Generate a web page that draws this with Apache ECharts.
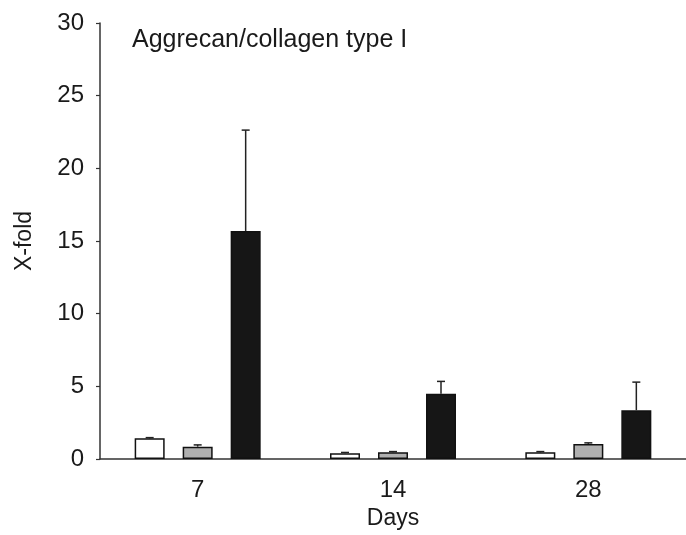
<!DOCTYPE html>
<html>
<head>
<meta charset="utf-8">
<script src="https://cdn.jsdelivr.net/npm/echarts@6/dist/echarts.min.js"></script>
<style>html,body{margin:0;padding:0;background:#fff;}#c{width:686px;height:535px;}</style>
</head>
<body>
<div id="c"></div>
<script>
var days = ['7', '14', '28'];
var groupA = [1.42, 0.40, 0.46];
var groupAErr = [0.05, 0.05, 0.05];
var groupB = [0.85, 0.46, 1.04];
var groupBErr = [0.12, 0.05, 0.07];
var groupC = [15.69, 4.49, 3.36];
var groupCErr = [6.94, 0.85, 1.93];
var yTicks = [0, 5, 10, 15, 20, 25, 30];

var FONT = '"Liberation Sans", Arial, sans-serif';
var BAR_W = 30;
var GAP_RATIO = 0.6;

var chart = echarts.init(document.getElementById('c'), null, {renderer: 'canvas'});

function errSeries(vals, errs, idx) {
  return {
    type: 'custom',
    z: 1,
    silent: true,
    data: vals.map(function (v, i) { return [i, v, v + errs[i]]; }),
    renderItem: function (params, api) {
      var c = api.value(0);
      var base = api.coord([c, api.value(1)]);
      var top = api.coord([c, api.value(2)]);
      var off = (idx - 1) * BAR_W * (1 + GAP_RATIO);
      var x = base[0] + off;
      var capHalf = 4;
      return {
        type: 'group',
        children: [
          {type: 'line', shape: {x1: x, y1: base[1], x2: x, y2: top[1]}, style: {stroke: '#222', lineWidth: 1.5}},
          {type: 'line', shape: {x1: x - capHalf, y1: top[1], x2: x + capHalf, y2: top[1]}, style: {stroke: '#222', lineWidth: 1.5}}
        ]
      };
    }
  };
}

var option = {
  animation: false,
  backgroundColor: '#fff',
  grid: {left: 100, right: 0, top: 23, bottom: 72.5, containLabel: false},
  title: {
    text: 'Aggrecan/collagen type I',
    left: 127, top: 23,
    textStyle: {fontFamily: FONT, fontSize: 25, fontWeight: 'normal', color: '#1a1a1a'}
  },
  xAxis: {
    type: 'category', data: days,
    name: 'Days', nameLocation: 'middle', nameGap: 48,
    nameTextStyle: {fontFamily: FONT, fontSize: 23, color: '#1a1a1a'},
    axisLine: {show: true, lineStyle: {color: '#333', width: 1.5}},
    axisTick: {show: false},
    axisLabel: {fontFamily: FONT, fontSize: 24, color: '#1a1a1a', margin: 19}
  },
  yAxis: {
    type: 'value', min: yTicks[0], max: yTicks[yTicks.length - 1], interval: yTicks[1] - yTicks[0],
    name: 'X-fold', nameLocation: 'middle', nameGap: 64, nameRotate: 90,
    nameTextStyle: {fontFamily: FONT, fontSize: 23, color: '#1a1a1a'},
    axisLine: {show: true, lineStyle: {color: '#333', width: 1.5}},
    axisTick: {show: true, length: 4, inside: false, lineStyle: {color: '#333', width: 1.2}},
    axisLabel: {fontFamily: FONT, fontSize: 24, color: '#1a1a1a', margin: 16},
    splitLine: {show: false}
  },
  series: [
    {type: 'bar', name: 'A', data: groupA, barWidth: BAR_W, barGap: (GAP_RATIO * 100) + '%',
     itemStyle: {color: '#ffffff', borderColor: '#111', borderWidth: 1.5}, z: 2},
    {type: 'bar', name: 'B', data: groupB, barWidth: BAR_W, barGap: (GAP_RATIO * 100) + '%',
     itemStyle: {color: '#b0b0b0', borderColor: '#111', borderWidth: 1.5}, z: 2},
    {type: 'bar', name: 'C', data: groupC, barWidth: BAR_W, barGap: (GAP_RATIO * 100) + '%',
     itemStyle: {color: '#161616', borderColor: '#111', borderWidth: 1.5}, z: 2},
    errSeries(groupA, groupAErr, 0),
    errSeries(groupB, groupBErr, 1),
    errSeries(groupC, groupCErr, 2)
  ]
};
chart.setOption(option);
</script>
</body>
</html>
